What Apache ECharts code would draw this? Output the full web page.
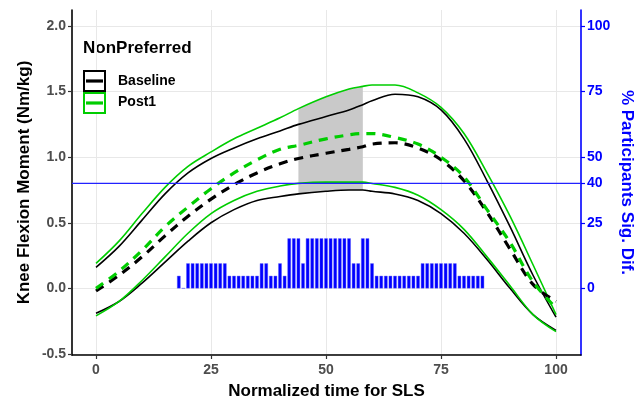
<!DOCTYPE html>
<html><head><meta charset="utf-8">
<script src="https://cdn.jsdelivr.net/npm/echarts@6/dist/echarts.min.js"></script>
<style>html,body{margin:0;padding:0;background:#fff}#c{width:634px;height:400px}</style>
</head><body><div id="c"></div>
<script>
// ---- data ----
const times = [0,5,10,15,20,25,30,35,40,44,50,55,58,60,65,70,75,80,85,90,95,100];
const baseUpper = [0.16,0.32,0.52,0.72,0.88,0.99,1.07,1.14,1.20,1.25,1.31,1.36,1.40,1.43,1.48,1.46,1.36,1.14,0.82,0.47,0.10,-0.22];
const baseMean  = [-0.02,0.10,0.24,0.40,0.55,0.68,0.79,0.88,0.95,0.99,1.03,1.06,1.08,1.10,1.11,1.07,0.98,0.82,0.58,0.30,0.03,-0.10];
const baseLower = [-0.19,-0.10,0.04,0.20,0.36,0.50,0.60,0.67,0.70,0.72,0.74,0.75,0.75,0.74,0.72,0.67,0.57,0.42,0.22,0.00,-0.20,-0.32];
const postUpper = [0.19,0.36,0.57,0.77,0.93,1.04,1.14,1.22,1.30,1.37,1.46,1.52,1.54,1.55,1.55,1.49,1.38,1.18,0.88,0.55,0.18,-0.20];
const postMean  = [0.00,0.13,0.29,0.47,0.62,0.76,0.88,0.98,1.06,1.09,1.14,1.17,1.18,1.18,1.15,1.10,1.00,0.85,0.60,0.35,0.05,-0.15];
const postLower = [-0.21,-0.10,0.06,0.24,0.42,0.57,0.67,0.74,0.78,0.80,0.81,0.81,0.81,0.80,0.77,0.71,0.60,0.45,0.24,0.02,-0.20,-0.33];
const greyStart = 44, greyEnd = 58;
const sigTime = [18,19,20,21,22,23,24,25,26,27,28,29,30,31,32,33,34,35,36,37,38,39,40,41,42,43,44,45,46,47,48,49,50,51,52,53,54,55,56,57,58,59,60,61,62,63,64,65,66,67,68,69,70,71,72,73,74,75,76,77,78,79,80,81,82,83,84];
const sigPct  = [4.76,0,9.52,9.52,9.52,9.52,9.52,9.52,9.52,9.52,9.52,4.76,4.76,4.76,4.76,4.76,4.76,4.76,9.52,9.52,4.76,4.76,9.52,4.76,19.05,19.05,19.05,9.52,19.05,19.05,19.05,19.05,19.05,19.05,19.05,19.05,19.05,19.05,9.52,9.52,19.05,19.05,9.52,4.76,4.76,4.76,4.76,4.76,4.76,4.76,4.76,4.76,4.76,9.52,9.52,9.52,9.52,9.52,9.52,9.52,9.52,4.76,4.76,4.76,4.76,4.76,4.76];
const thresholdPct = 40;
const xTicks = [0,25,50,75,100];
const yTicks = [-0.5,0,0.5,1.0,1.5,2.0];
const pctTicks = [0,25,40,50,75,100];
const legendTitle = 'NonPreferred';
const groups = ['Baseline','Post1'];

// ---- chart ----
const FONT = 'Liberation Sans, Arial, Helvetica, sans-serif';
const BLACK = '#000000', GREEN = '#00CD00', BLUE = '#0000FF';
const yMin = -0.508, yMax = 2.122, scale2 = 50;
const xMin = -5.22, xMax = 105.43;
const pairs = arr => times.map((t,i)=>[t,arr[i]]);
const ribIdx = times.map((t,i)=>i).filter(i=>times[i]>=greyStart && times[i]<=greyEnd);
const ribbon = ribIdx.map(i=>[times[i], baseLower[i], postUpper[i]]);

function line(name, arr, color, dashed){
  return {type:'line', name, data:pairs(arr), smooth:0.35, symbol:'none', z:5,
    lineStyle:{color, width: dashed?3.2:1.6, type: dashed?[9,7]:'solid'}};
}
const chart = echarts.init(document.getElementById('c'), null, {renderer:'canvas'});
chart.setOption({
  animation:false,
  textStyle:{fontFamily:FONT},
  grid:{left:72, right:53, top:10, bottom:45, outerBoundsMode:'none', containLabel:false},
  xAxis:{type:'value', min:xMin, max:xMax, name:'Normalized time for SLS', nameLocation:'middle', nameGap:28,
     nameTextStyle:{fontFamily:FONT, fontWeight:'bold', fontSize:17, color:'#000'},
     axisLine:{onZero:false, lineStyle:{color:'#000', width:1.6}},
     axisTick:{length:4, customValues:xTicks, lineStyle:{color:'#333', width:1.2}},
     axisLabel:{customValues:xTicks, fontFamily:FONT, fontWeight:'bold', fontSize:14, color:'#4d4d4d', margin:8},
     splitLine:{show:true, lineStyle:{color:'#e8e8e8', width:1}}},
  yAxis:[
    {type:'value', min:yMin, max:yMax, position:'left', name:'Knee Flexion Moment (Nm/kg)', nameLocation:'middle', nameGap:39,
     nameMoveOverlap:false,
     nameTextStyle:{fontFamily:FONT, fontWeight:'bold', fontSize:17, color:'#000'},
     axisLine:{show:true, onZero:false, lineStyle:{color:'#000', width:1.6}},
     axisTick:{show:true, length:4, customValues:yTicks, lineStyle:{color:'#333', width:1.2}},
     axisLabel:{customValues:yTicks, formatter:v=>v.toFixed(1), fontFamily:FONT, fontWeight:'bold', fontSize:14, color:'#4d4d4d', margin:6},
     splitLine:{show:true, lineStyle:{color:'#e8e8e8', width:1}}},
    {type:'value', min:yMin*scale2, max:yMax*scale2, position:'right', name:'% Participants Sig. Dif.', nameLocation:'middle', nameGap:37, nameRotate:-90,
     nameMoveOverlap:false,
     nameTextStyle:{fontFamily:FONT, fontWeight:'bold', fontSize:17, color:BLUE},
     axisLine:{show:true, onZero:false, lineStyle:{color:BLUE, width:1.6}},
     axisTick:{show:true, length:4, customValues:pctTicks, lineStyle:{color:BLUE, width:1.2}},
     axisLabel:{customValues:pctTicks, fontFamily:FONT, fontWeight:'bold', fontSize:14, color:BLUE, margin:6},
     splitLine:{show:false}}
  ],
  series:[
    {type:'custom', name:'ribbon', data:ribbon, encode:{x:0, y:[1,2]}, z:1, silent:true,
     renderItem:(params, api)=>{
       if (params.dataIndex !== 0) return null;
       const top = ribbon.map(r=>api.coord([r[0], r[2]]));
       const bot = ribbon.map(r=>api.coord([r[0], r[1]])).reverse();
       return {type:'polygon', shape:{points: top.concat(bot)}, style:{fill:'#c9c9c9'}};
     }},
    {type:'bar', name:'sig', yAxisIndex:1, data:sigTime.map((t,i)=>[t,sigPct[i]]), barWidth:3.4,
     itemStyle:{color:BLUE, borderColor:'#4d4dff', borderWidth:0.4}, z:3},
    {type:'line', name:'threshold', yAxisIndex:1, data:[[xMin, thresholdPct],[xMax, thresholdPct]],
     symbol:'none', silent:true, z:6, lineStyle:{color:'#2222ff', width:1.2, type:'solid'}},
    line('Baseline upper', baseUpper, BLACK, false),
    line('Baseline lower', baseLower, BLACK, false),
    line('Post1 upper', postUpper, GREEN, false),
    line('Post1 lower', postLower, GREEN, false),
    line('Baseline', baseMean, BLACK, true),
    line('Post1', postMean, GREEN, true)
  ],
  graphic:[
    {type:'text', left:83, top:40, style:{text:legendTitle, font:'bold 17px '+FONT, fill:'#000'}},
    {type:'rect', shape:{x:84, y:71, width:21, height:20}, style:{fill:'#fff', stroke:BLACK, lineWidth:2}, z:10},
    {type:'line', shape:{x1:86, y1:81, x2:103, y2:81}, style:{stroke:BLACK, lineWidth:3.2}, z:11},
    {type:'text', left:118, top:74, style:{text:groups[0], font:'bold 14px '+FONT, fill:'#000'}, z:11},
    {type:'rect', shape:{x:84, y:93, width:21, height:20}, style:{fill:'#fff', stroke:GREEN, lineWidth:2}, z:10},
    {type:'line', shape:{x1:86, y1:103, x2:103, y2:103}, style:{stroke:GREEN, lineWidth:3.2}, z:11},
    {type:'text', left:118, top:95, style:{text:groups[1], font:'bold 14px '+FONT, fill:'#000'}, z:11}
  ]
});
</script></body></html>
